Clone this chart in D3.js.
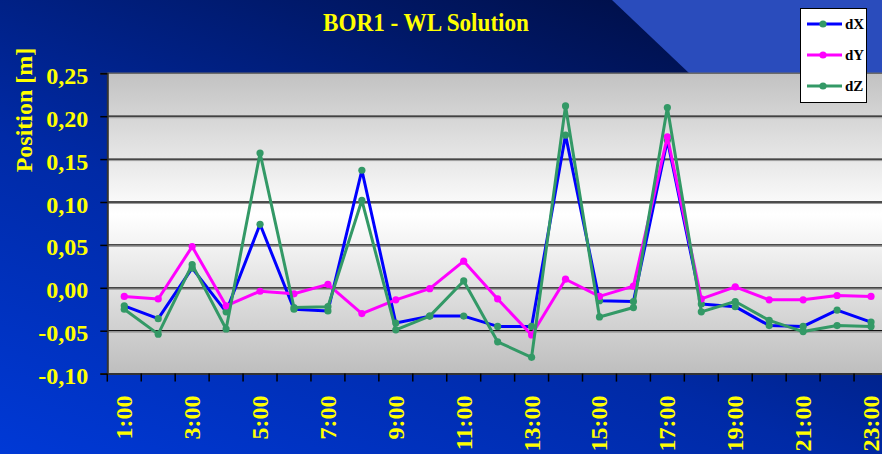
<!DOCTYPE html>
<html>
<head>
<meta charset="utf-8">
<script src="https://cdn.jsdelivr.net/npm/d3@7"></script>
<style>
  html, body { margin: 0; padding: 0; background: #0030c0; }
  svg { display: block; }
  text { font-family: "Liberation Serif", "Times New Roman", serif; font-weight: bold; }
</style>
</head>
<body>
<svg id="chart"></svg>
<script>
// Chart data
const hours = ["1:00", "2:00", "3:00", "4:00", "5:00", "6:00", "7:00", "8:00", "9:00", "10:00", "11:00", "12:00",
  "13:00", "14:00", "15:00", "16:00", "17:00", "18:00", "19:00", "20:00", "21:00", "22:00", "23:00"];
const dX = [-0.021, -0.036, 0.023, -0.028, 0.074, -0.025, -0.027, 0.137, -0.041, -0.033, -0.033, -0.045,
  -0.045, 0.178, -0.015, -0.016, 0.172, -0.019, -0.022, -0.044, -0.045, -0.026, -0.040];
const dY = [-0.010, -0.013, 0.048, -0.021, -0.004, -0.007, 0.004, -0.030, -0.014, -0.001, 0.031, -0.013,
  -0.055, 0.010, -0.010, 0.002, 0.176, -0.013, 0.001, -0.014, -0.014, -0.009, -0.010];
const dZ = [-0.025, -0.054, 0.027, -0.048, 0.157, -0.023, -0.022, 0.102, -0.049, -0.033, 0.008, -0.063,
  -0.081, 0.212, -0.034, -0.023, 0.210, -0.028, -0.016, -0.038, -0.051, -0.044, -0.045];
const yTicks = [-0.10, -0.05, 0.00, 0.05, 0.10, 0.15, 0.20, 0.25];
const seriesNames = ["dX", "dY", "dZ"];

const W = 882, H = 454;
const plot = { left: 107.3, top: 73.3, right: 888, bottom: 373.6 };

const svg = d3.select("#chart").attr("width", W).attr("height", H);
const defs = svg.append("defs");

// background gradients
const bg = defs.append("linearGradient").attr("id", "bg")
  .attr("x1", 0).attr("y1", 1).attr("x2", 0.75).attr("y2", 0);
bg.append("stop").attr("offset", 0).attr("stop-color", "#0039d6");
bg.append("stop").attr("offset", 0.45).attr("stop-color", "#002aa6");
bg.append("stop").attr("offset", 1).attr("stop-color", "#000f48");

const pg = defs.append("linearGradient").attr("id", "plotbg")
  .attr("x1", 0).attr("y1", 0).attr("x2", 0).attr("y2", 1);
pg.append("stop").attr("offset", 0).attr("stop-color", "#c2c2c2");
pg.append("stop").attr("offset", 0.47).attr("stop-color", "#ffffff");
pg.append("stop").attr("offset", 1).attr("stop-color", "#bebebe");

svg.append("rect").attr("width", W).attr("height", H).attr("fill", "url(#bg)");
svg.append("polygon")
  .attr("points", "612,0 " + W + ",0 " + W + ",74 690,74")
  .attr("fill", "#2a4cbc");

// scales
const x = d3.scaleBand().domain(hours).range([plot.left, plot.right]).padding(0);
const y = d3.scaleLinear().domain([-0.10, 0.25]).range([plot.bottom, plot.top]);

// plot area
svg.append("rect")
  .attr("x", plot.left).attr("y", plot.top)
  .attr("width", plot.right - plot.left).attr("height", plot.bottom - plot.top)
  .attr("fill", "url(#plotbg)");
svg.append("line")
  .attr("x1", plot.left).attr("x2", W).attr("y1", plot.top).attr("y2", plot.top)
  .attr("stroke", "#6a6a6a").attr("stroke-width", 1.5);

// gridlines
const grid = svg.append("g");
grid.selectAll(".gs").data(yTicks.slice(1, -1)).enter().append("line")
  .attr("x1", plot.left).attr("x2", W)
  .attr("y1", d => y(d) + 1.5).attr("y2", d => y(d) + 1.5)
  .attr("stroke", "#9a9a9a").attr("stroke-width", 1);
grid.selectAll(".g").data(yTicks.slice(1, -1)).enter().append("line")
  .attr("x1", plot.left).attr("x2", W)
  .attr("y1", d => y(d)).attr("y2", d => y(d))
  .attr("stroke", "#111").attr("stroke-width", 1.3);

// y axis
const fmt = d => d3.format(".2f")(d).replace(".", ",").replace("−", "-");
const yAxis = svg.append("g")
  .attr("transform", "translate(" + plot.left + ",0)")
  .call(d3.axisLeft(y).tickValues(yTicks).tickSize(7).tickPadding(12).tickFormat(fmt));
yAxis.select(".domain").attr("stroke", "#333").attr("stroke-width", 2);
yAxis.selectAll(".tick line").attr("stroke", "#000").attr("stroke-width", 1.5);
yAxis.selectAll("text")
  .attr("fill", "#ffff00").style("font-size", "24px").attr("dy", "0.42em");

// x axis
const xAxis = svg.append("g")
  .attr("transform", "translate(0," + plot.bottom + ")")
  .call(d3.axisBottom(x).tickSize(0).tickFormat((d, i) => i % 2 === 0 ? d : ""));
xAxis.select(".domain").attr("stroke", "#333").attr("stroke-width", 2);
xAxis.selectAll("text")
  .attr("fill", "#ffff00").style("font-size", "24px")
  .attr("transform", "rotate(-90)")
  .attr("text-anchor", "end")
  .attr("x", -22).attr("y", 0).attr("dy", "0.33em");
xAxis.selectAll(".bt").data(hours).enter().append("line")
  .attr("x1", d => x(d)).attr("x2", d => x(d))
  .attr("y1", 0).attr("y2", 8)
  .attr("stroke", "#000").attr("stroke-width", 1.5);

// y axis title
svg.append("text")
  .attr("transform", "translate(32,110) rotate(-90)")
  .attr("text-anchor", "middle")
  .attr("fill", "#ffff00")
  .style("font-size", "24px")
  .text("Position [m]");

// title
svg.append("text")
  .attr("x", 426).attr("y", 31)
  .attr("text-anchor", "middle")
  .attr("fill", "#ffff00")
  .attr("textLength", 206).attr("lengthAdjust", "spacingAndGlyphs")
  .style("font-size", "25px")
  .text("BOR1 - WL Solution");

// series
const series = [
  { name: "dX", values: dX, line: "#0000ff", marker: "#339966" },
  { name: "dY", values: dY, line: "#ff00ff", marker: "#ff00ff" },
  { name: "dZ", values: dZ, line: "#339966", marker: "#339966" }
];
const cx = (d, i) => x(hours[i]) + x.bandwidth() / 2;
const line = d3.line().x(cx).y(d => y(d));

series.forEach(s => {
  const g = svg.append("g");
  g.append("path")
    .datum(s.values)
    .attr("fill", "none")
    .attr("stroke", s.line)
    .attr("stroke-width", 3)
    .attr("stroke-linejoin", "round")
    .attr("d", line);
  g.selectAll("circle").data(s.values).enter().append("circle")
    .attr("cx", cx).attr("cy", d => y(d))
    .attr("r", 3.6)
    .attr("fill", s.marker);
});

// legend
const legend = svg.append("g");
legend.append("rect")
  .attr("x", 800.5).attr("y", 8.5).attr("width", 66).attr("height", 94)
  .attr("fill", "#fff").attr("stroke", "#000").attr("stroke-width", 1);
const ly = d3.scalePoint().domain(seriesNames).range([24, 86]);
series.forEach(s => {
  const yy = ly(s.name);
  legend.append("line")
    .attr("x1", 807).attr("x2", 842).attr("y1", yy).attr("y2", yy)
    .attr("stroke", s.line).attr("stroke-width", 3);
  legend.append("circle").attr("cx", 823).attr("cy", yy).attr("r", 3.6).attr("fill", s.marker);
  legend.append("text")
    .attr("x", 845).attr("y", yy).attr("dy", "0.35em")
    .attr("fill", "#000").style("font-size", "15px")
    .text(s.name);
});
</script>
</body>
</html>
